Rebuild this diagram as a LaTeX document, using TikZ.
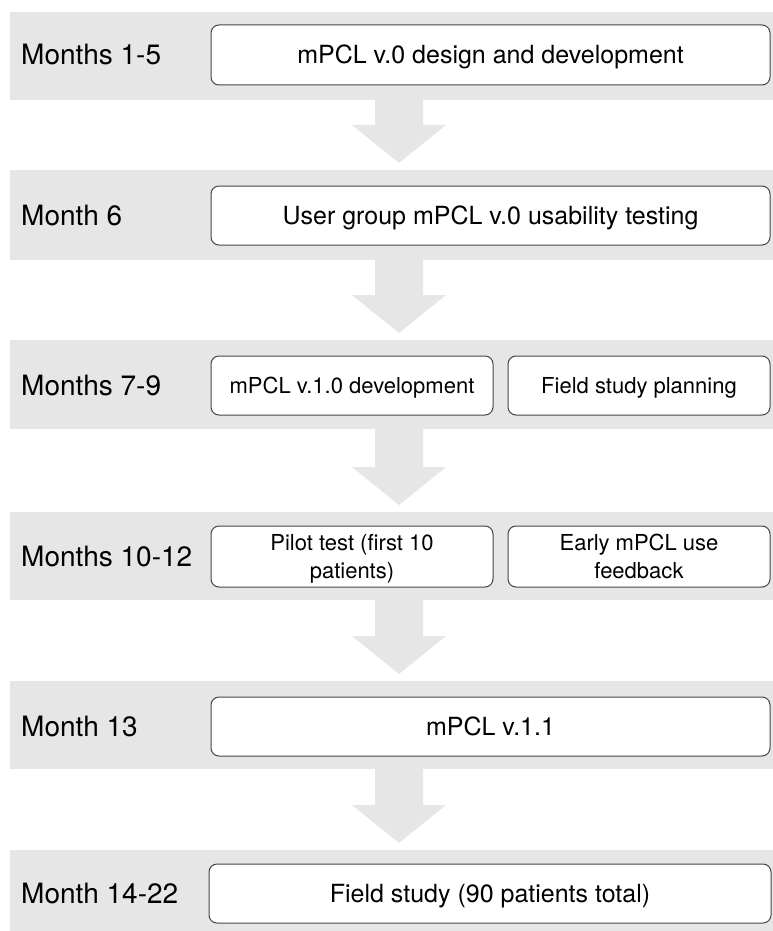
\documentclass[tikz,border=0pt]{standalone}
\usepackage{fontspec}
\setmainfont{TeX Gyre Heros}
\usetikzlibrary{calc}
\definecolor{bandgray}{HTML}{E6E6E6}
\definecolor{arrgray}{HTML}{E6E6E6}
\definecolor{boxline}{HTML}{454545}
\newcommand{\blockarr}[2]{%
  \fill[arrgray]
    ($(ax |- #1.south)+(-24,0)$) -- ($(ax |- #1.south)+(24,0)$) --
    ($(ax |- #2.north)+(24,-45)$) -- ($(ax |- #2.north)+(47,-45)$) --
    ($(ax |- #2.north)+(0,-7)$) --
    ($(ax |- #2.north)+(-47,-45)$) -- ($(ax |- #2.north)+(-24,-45)$) -- cycle;}
\begin{document}
\begin{tikzpicture}[x=1pt,y=-1pt,
  band/.style={rectangle, fill=bandgray, draw=none, inner sep=0pt, outer sep=0pt,
    anchor=north west, minimum width=770pt},
  lab/.style={anchor=west, inner sep=0pt, font=\fontsize{28}{33}\selectfont,
    text height=20pt, text depth=0pt},
  box/.style={rectangle, draw=boxline, fill=white, rounded corners=8pt, line width=1pt,
    inner sep=0pt, outer sep=0pt, anchor=north west, align=center,
    font=\fontsize{25}{30}\selectfont, text height=18pt, text depth=0pt},
  sbox/.style={box, font=\fontsize{22}{28}\selectfont, text height=15.8pt},
  tbox/.style={sbox, text height=43.8pt, text depth=0pt}]
\clip (0,0) rectangle (773,931);
\fill[white] (0,0) rectangle (773,931);
\coordinate (ax) at (399,0);
% bands
\node[band, minimum height=88pt] (band1) at (10,12) {};
\node[band, minimum height=90pt] (band2) at (10,170) {};
\node[band, minimum height=89pt] (band3) at (10,340) {};
\node[band, minimum height=88pt] (band4) at (10,512) {};
\node[band, minimum height=88pt] (band5) at (10,681) {};
\node[band, minimum height=90pt] (band6) at (10,850) {};
% arrows
\blockarr{band1}{band2}
\blockarr{band2}{band3}
\blockarr{band3}{band4}
\blockarr{band4}{band5}
\blockarr{band5}{band6}
% labels
\node[lab] (l1) at (21,55) {Months 1-5};
\node[lab] (l2) at (21,215.5) {Month 6};
\node[lab] (l3) at (21,385.5) {Months 7-9};
\node[lab] (l4) at (21,556.5) {Months 10-12};
\node[lab] (l5) at (21,726.5) {Month 13};
\node[lab] (l6) at (21,893.5) {Month 14-22};
% boxes
\node[box, minimum width=559pt, minimum height=60pt] (b1) at (211,25) {mPCL v.0 design and development};
\node[box, minimum width=559pt, minimum height=59pt] (b2) at (211,186) {User group mPCL v.0 usability testing};
\node[sbox, minimum width=282pt, minimum height=59pt] (b3a) at (211,356) {mPCL v.1.0 development};
\node[sbox, minimum width=262pt, minimum height=59pt] (b3b) at (508,356) {Field study planning};
\node[tbox, minimum width=282pt, minimum height=61pt] (b4a) at (211,526) {Pilot test (first 10\\patients)};
\node[tbox, minimum width=262pt, minimum height=61pt] (b4b) at (508,526) {Early mPCL use\\feedback};
\node[box, minimum width=559pt, minimum height=59pt] (b5) at (211,697) {mPCL v.1.1};
\node[box, minimum width=562pt, minimum height=59pt] (b6) at (209,864) {Field study (90 patients total)};
\end{tikzpicture}
\end{document}
